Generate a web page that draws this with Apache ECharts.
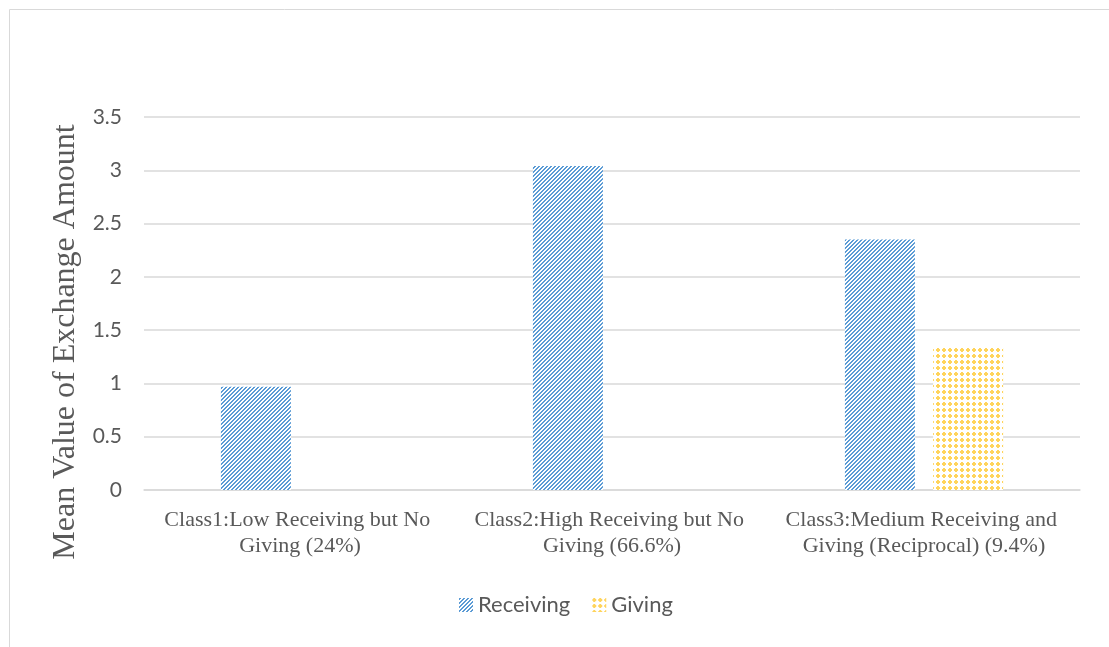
<!DOCTYPE html>
<html>
<head>
<meta charset="utf-8">
<script src="https://cdn.jsdelivr.net/npm/echarts@6/dist/echarts.min.js"></script>
<style>
  html, body { margin: 0; padding: 0; background: #fff; }
  #chart { width: 1109px; height: 647px; }
</style>
</head>
<body>
<div id="chart"></div>
<script>
const categories = [
  'Class1:Low Receiving but No Giving (24%)',
  'Class2:High Receiving but No Giving (66.6%)',
  'Class3:Medium Receiving and Giving (Reciprocal) (9.4%)',
]
const receiving = [0.97, 3.04, 2.35]
const giving = [null, null, 1.35]
const yTicks = { min: 0, max: 3.5, interval: 0.5 }
const yTitle = 'Mean Value of Exchange Amount'

// small tiles that mimic the Excel fill patterns
function diagTile() {
  const c = document.createElement('canvas')
  c.width = 4; c.height = 4
  const g = c.getContext('2d')
  g.fillStyle = '#ffffff'; g.fillRect(0, 0, 4, 4)
  g.fillStyle = '#5b9bd5'
  for (let y = 0; y < 4; y++) {
    for (let x = 0; x < 4; x++) {
      if ((x + y) % 4 < 2) g.fillRect(x, y, 1, 1)
    }
  }
  return c
}
function dotTile() {
  const c = document.createElement('canvas')
  c.width = 6; c.height = 6
  const g = c.getContext('2d')
  g.fillStyle = '#ffffff'; g.fillRect(0, 0, 6, 6)
  g.fillStyle = '#ffd45c'
  g.fillRect(1, 0, 2, 4)
  g.fillRect(0, 1, 4, 2)
  return c
}
const recvFill = { image: diagTile(), repeat: 'repeat' }
const giveFill = { image: dotTile(), repeat: 'repeat' }

const chart = echarts.init(document.getElementById('chart'))
chart.setOption({
  animation: false,
  graphic: [{
    type: 'rect', left: 7, top: 7, z: -10,
    shape: { width: 1200, height: 700 },
    style: { fill: 'none', stroke: '#d9d9d9', lineWidth: 1 },
  }, {
    type: 'text', x: 66, y: 342, rotation: Math.PI / 2,
    style: {
      text: yTitle, align: 'center', verticalAlign: 'middle',
      fontFamily: 'Liberation Serif', fontSize: 32, fill: '#595959',
    },
  }],
  grid: { left: 144, right: 29, top: 117, bottom: 157 },
  legend: {
    top: 589, left: 454, itemWidth: 14, itemHeight: 14, itemGap: 22,
    textStyle: { fontFamily: 'Lato', fontSize: 22, color: '#595959' },
    data: [
      { name: 'Receiving', icon: 'rect', itemStyle: { color: recvFill } },
      { name: 'Giving', icon: 'rect', itemStyle: { color: giveFill } },
    ],
  },
  xAxis: {
    type: 'category', data: categories,
    axisLine: { lineStyle: { color: '#d9d9d9', width: 1.5 } },
    axisTick: { show: false },
    axisLabel: {
      interval: 0, margin: 17, width: 304, overflow: 'break', lineHeight: 26,
      fontFamily: 'Liberation Serif', fontSize: 22, color: '#595959',
    },
  },
  yAxis: {
    type: 'value', min: yTicks.min, max: yTicks.max, interval: yTicks.interval,
    axisLine: { show: false }, axisTick: { show: false },
    axisLabel: { margin: 22, fontFamily: 'Lato', fontSize: 21, color: '#595959' },
    splitLine: { lineStyle: { color: '#d9d9d9', width: 1.5 } },
  },
  series: [
    { name: 'Receiving', type: 'bar', data: receiving, barWidth: 70, barGap: '26%',
      itemStyle: { color: recvFill } },
    { name: 'Giving', type: 'bar', data: giving, barWidth: 70,
      itemStyle: { color: giveFill } },
  ],
})
</script>
</body>
</html>
